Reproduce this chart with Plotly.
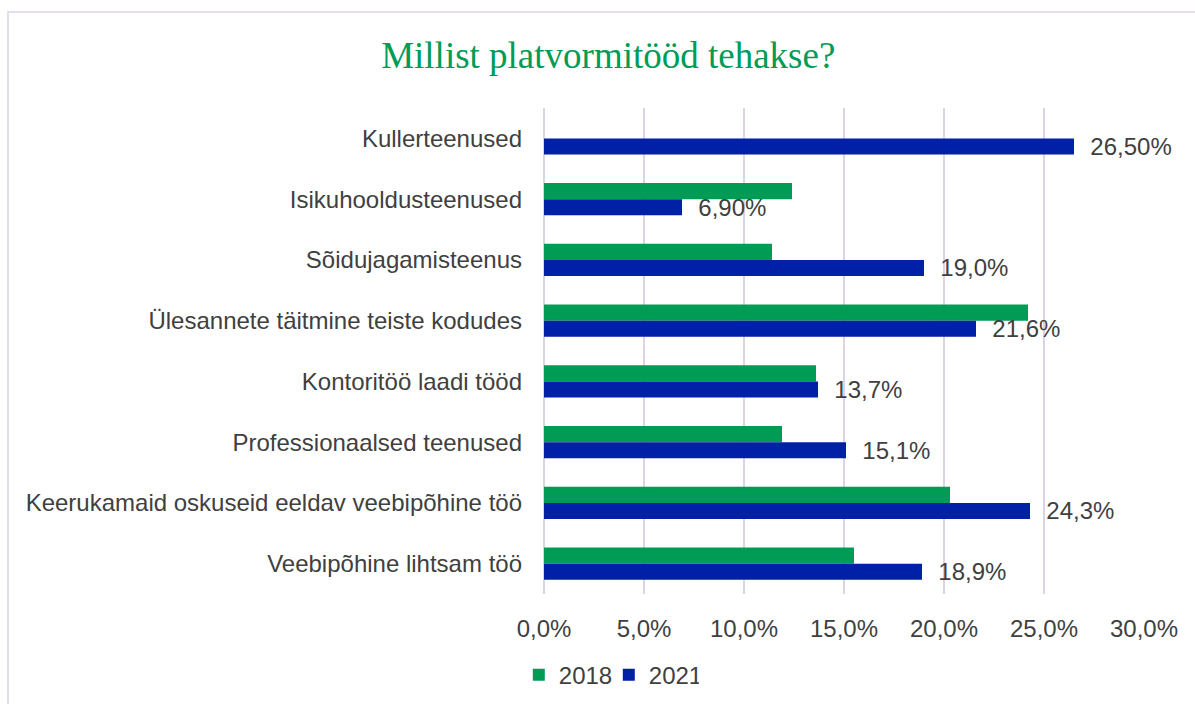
import plotly.graph_objects as go

categories = [
    "Kullerteenused",
    "Isikuhooldusteenused",
    "Sõidujagamisteenus",
    "Ülesannete täitmine teiste kodudes",
    "Kontoritöö laadi tööd",
    "Professionaalsed teenused",
    "Keerukamaid oskuseid eeldav veebipõhine töö",
    "Veebipõhine lihtsam töö",
]
values_2018 = [None, 12.4, 11.4, 24.2, 13.6, 11.9, 20.3, 15.5]
values_2021 = [26.5, 6.9, 19.0, 21.6, 13.7, 15.1, 24.3, 18.9]
labels_2021 = ["26,50%", "6,90%", "19,0%", "21,6%", "13,7%", "15,1%", "24,3%", "18,9%"]
x_ticks = [0, 5, 10, 15, 20, 25, 30]
x_tick_labels = ["0,0%", "5,0%", "10,0%", "15,0%", "20,0%", "25,0%", "30,0%"]

GREEN = "#009B55"
BLUE = "#0020A8"
GRID = "#DCD4E4"
TEXT = "#404040"
FONT = "Liberation Sans, Arial, sans-serif"
FS = 24

fig = go.Figure()
fig.add_trace(go.Bar(
    name="2018", y=categories, x=values_2018, orientation="h",
    marker=dict(color=GREEN, line=dict(width=0)),
))
fig.add_trace(go.Bar(
    name="2021", y=categories, x=values_2021, orientation="h",
    marker=dict(color=BLUE, line=dict(width=0)),
    text=["  " + t for t in labels_2021], textposition="outside",
    textfont=dict(size=FS, color=TEXT, family=FONT),
    constraintext="none", cliponaxis=False,
))

fig.update_layout(
    width=1195, height=704,
    margin=dict(l=544, r=51, t=108, b=110, autoexpand=False),
    paper_bgcolor="white", plot_bgcolor="white",
    barmode="group", bargap=0.47, bargroupgap=0,
    font=dict(family=FONT, size=FS, color=TEXT),
    title=dict(
        text="Millist platvormitööd tehakse?",
        font=dict(family="Liberation Serif, Times New Roman, serif", size=37, color=GREEN),
        x=0.509, xanchor="center", xref="container",
        y=1 - 55 / 704, yanchor="middle", yref="container",
    ),
    xaxis=dict(
        range=[0, 30], tickvals=x_ticks, ticktext=x_tick_labels,
        showgrid=True, gridcolor=GRID, gridwidth=1.6,
        zeroline=True, zerolinecolor=GRID, zerolinewidth=1.6,
        showline=False, ticks="", ticklabelstandoff=18, automargin=False,
        tickfont=dict(size=FS, color=TEXT),
    ),
    yaxis=dict(
        categoryorder="array", categoryarray=categories, autorange="reversed",
        showgrid=False, zeroline=False, showline=False, ticks="",
        ticklabelstandoff=21, automargin=False, tickfont=dict(size=FS, color=TEXT),
    ),
    legend=dict(
        orientation="h", x=0.108, xanchor="center", y=-0.167, yanchor="middle",
        font=dict(size=FS, color=TEXT), traceorder="normal",
        entrywidth=45, itemwidth=30,
    ),
    shapes=[dict(
        type="rect", xref="paper", yref="paper",
        x0=(8 - 544) / 600, x1=1.2, y0=-0.4, y1=(594 - 12) / 486,
        line=dict(color="#DCD4E4", width=1.6), layer="below",
    )],
)

fig.write_html(
    "out.html",
    config={"displayModeBar": False},
    post_script="document.body.style.margin='0px';",
)
